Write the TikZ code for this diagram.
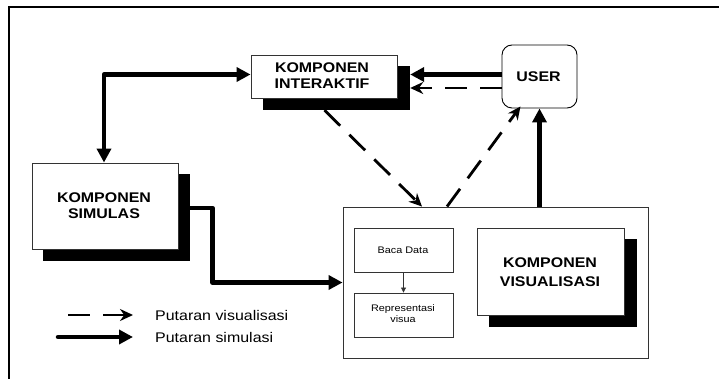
\documentclass[tikz,border=0pt]{standalone}
\usepackage{fontspec}
\usetikzlibrary{arrows.meta,calc}
\newfontfamily\lblfont[FakeStretch=1.14]{Liberation Sans}

\tikzset{
  boxline/.style={draw=black!80, line width=0.9pt, fill=white, inner sep=0pt},
  shadowbox/.style={fill=black, draw=none, inner sep=0pt},
  bigtitle/.style={font=\lblfont\bfseries\fontsize{14}{16}\selectfont, align=center, inner sep=0pt},
  smalltext/.style={font=\lblfont\fontsize{9.5}{11}\selectfont, align=center, inner sep=0pt},
  legendtext/.style={font=\lblfont\fontsize{14}{16}\selectfont, anchor=west, inner sep=0pt},
  simflow/.style={line width=4.5pt, line join=round, -{Triangle[length=14pt,width=14pt]}},
  visflow/.style={line width=2.8pt, dash pattern=on 22pt off 13pt, -{Stealth[length=13pt,width=12pt]}},
  thinflow/.style={line width=0.8pt, black!80, -{Triangle[length=5pt,width=5pt]}}
}

\begin{document}
\begin{tikzpicture}[x=1pt,y=-1pt]
\useasboundingbox (0,0) rectangle (719,379);

% frame
\draw[line width=2pt] (9,379) -- (9,7) -- (719,7);

% KOMPONEN INTERAKTIF
\node[shadowbox, minimum width=147pt, minimum height=44pt] (intsh) at (336.5,88) {};
\node[boxline, minimum width=146pt, minimum height=43pt] (int) at (324,76.5) {};
\node[bigtitle] (inttext) at (322,76) {KOMPONEN\\INTERAKTIF};

% USER
\node[draw=black, line width=0.9pt, fill=white, rounded corners=10pt,
      minimum width=75pt, minimum height=63pt, inner sep=0pt] (user) at (539.5,76.5) {};
\node[bigtitle] (usertext) at (538.5,76.5) {USER};

% KOMPONEN SIMULASI
\node[shadowbox, minimum width=147pt, minimum height=87pt] (simsh) at (116.5,217.5) {};
\node[boxline, minimum width=146pt, minimum height=86pt] (sim) at (105,206) {};
\node[bigtitle] (simtext) at (104,206) {KOMPONEN\\SIMULAS};

% visualisation block
\node[boxline, minimum width=305pt, minimum height=151pt] (big) at (495.5,282.5) {};
\node[boxline, minimum width=99pt, minimum height=44pt] (baca) at (403.5,250) {};
\node[smalltext] (bacatext) at (403,250) {Baca Data};
\node[boxline, minimum width=99pt, minimum height=44pt] (repr) at (403.5,315) {};
\node[smalltext] (reprtext) at (403,313.5) {Representasi\\visua};
\node[shadowbox, minimum width=148pt, minimum height=88pt] (vissh) at (563,283) {};
\node[boxline, minimum width=147pt, minimum height=87pt] (vis) at (550.5,271.5) {};
\node[bigtitle, font=\lblfont\bfseries\fontsize{14}{19}\selectfont] (vistext) at (550,272) {KOMPONEN\\VISUALISASI};

% simulation loop
\draw[simflow, {Triangle[length=14pt,width=14pt]}-{Triangle[length=14pt,width=14pt]}]
  ([xshift=-1pt]sim.north) |- ([yshift=2pt]int.west);
\draw[simflow] ([yshift=2pt]user.west) -- ([yshift=2pt]intsh.east |- int.west);
\draw[simflow] (user.south |- big.north) -- (user.south);
\draw[simflow] ([yshift=9.5pt]simsh.east) -| ([xshift=-130pt]big.west) -- (big.west);

% visualisation loop
\draw[visflow] ([yshift=-11.5pt]user.west) -- ([yshift=-11.5pt]intsh.east |- int.west);
\draw[visflow] ([xshift=-12pt]intsh.south) -- ([xshift=-73.5pt]big.north);
\draw[visflow] ([xshift=-48.5pt]big.north) -- ([xshift=-19pt,yshift=2pt]user.south);

% inner flow
\draw[thinflow] (baca.south) -- (repr.north);

% legend
\coordinate (lva) at (68,315);
\coordinate (lvb) at (133,315);
\coordinate (lsa) at (58,337);
\coordinate (lsb) at (133,337);
\draw[visflow] (lva) -- (lvb);
\draw[simflow, line cap=round] (lsa) -- (lsb);
\node[legendtext] (lvt) at (155,315) {Putaran visualisasi};
\node[legendtext] (lst) at (155,337) {Putaran simulasi};
\end{tikzpicture}
\end{document}
